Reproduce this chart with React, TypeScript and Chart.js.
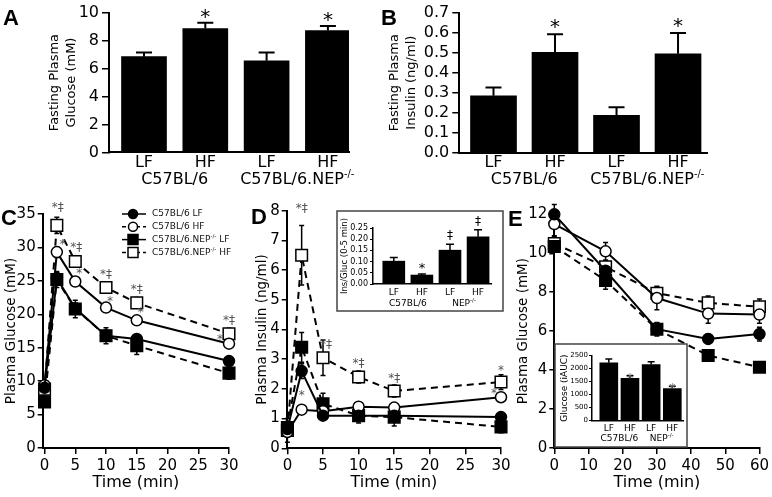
import { useEffect, useRef } from 'react';
import { Chart, registerables } from 'chart.js';

Chart.register(...registerables);

const FIG_W = 772;
const FIG_H = 497;
const SANS = "'DejaVu Sans', Verdana, sans-serif";
const LETTER_FAMILY = "'Liberation Sans', Arial, sans-serif";

// ---------------- data ----------------
const dietLabels = ['LF', 'HF', 'LF', 'HF'];
const strainNames = ['C57BL/6', 'C57BL/6.NEP'];
const insetStrainNames = ['C57BL/6', 'NEP'];
const knockoutMark = '-/-';

// A: fasting plasma glucose (mM)
const fastingGlucose = [6.85, 8.86, 6.55, 8.72];
const fastingGlucoseSem = [0.3, 0.41, 0.6, 0.33];
const fastingGlucoseTicks = [0, 2, 4, 6, 8, 10];

// B: fasting plasma insulin (ng/ml)
const fastingInsulin = [0.284, 0.502, 0.187, 0.494];
const fastingInsulinSem = [0.042, 0.09, 0.04, 0.104];
const fastingInsulinTicks = [0, 0.1, 0.2, 0.3, 0.4, 0.5, 0.6, 0.7];

// C: GTT plasma glucose (mM)
const gttTimes = [0, 2, 5, 10, 15, 30];
const gttTimeTicks = [0, 5, 10, 15, 20, 25, 30];
const gttGlucoseTicks = [0, 5, 10, 15, 20, 25, 30, 35];
const gttGlucoseLF = [9.0, 25.4, 20.9, 16.8, 16.3, 13.0];
const gttGlucoseHF = [9.4, 29.3, 24.9, 21.0, 19.1, 15.6];
const gttGlucoseNepLF = [6.9, 25.2, 20.8, 16.8, 15.3, 11.2];
const gttGlucoseNepHF = [8.8, 33.3, 27.9, 24.0, 21.7, 17.1];
const gttGlucoseLFSem = [0.4, 0.8, 0.7, 0.8, 0.6, 0.5];
const gttGlucoseHFSem = [0.4, 0.8, 0.6, 0.5, 0.5, 0.5];
const gttGlucoseNepLFSem = [0.5, 1.2, 1.3, 1.2, 1.3, 0.9];
const gttGlucoseNepHFSem = [0.5, 1.2, 0.8, 0.8, 0.8, 0.8];

// D: GTT plasma insulin (ng/ml)
const gttInsulinTicks = [0, 1, 2, 3, 4, 5, 6, 7, 8];
const gttInsulinLF = [0.65, 2.6, 1.1, 1.1, 1.1, 1.05];
const gttInsulinHF = [0.55, 1.3, 1.25, 1.4, 1.37, 1.72];
const gttInsulinNepLF = [0.7, 3.4, 1.5, 1.1, 1.05, 0.72];
const gttInsulinNepHF = [0.6, 6.5, 3.05, 2.4, 1.93, 2.23];
const gttInsulinLFSem = [0.1, 0.25, 0.1, 0.12, 0.1, 0.1];
const gttInsulinHFSem = [0.15, 0.1, 0.1, 0.1, 0.1, 0.15];
const gttInsulinNepLFSem = [0.2, 0.5, 0.35, 0.25, 0.3, 0.2];
const gttInsulinNepHFSem = [0.4, 1.0, 0.6, 0.2, 0.2, 0.25];

// D inset: Ins/Gluc (0-5 min)
const insGlucRatio = [0.102, 0.04, 0.151, 0.211];
const insGlucRatioSem = [0.016, 0.005, 0.027, 0.031];
const insGlucTicks = [0, 0.05, 0.1, 0.15, 0.2, 0.25];

// E: ITT plasma glucose (mM)
const ittTimes = [0, 15, 30, 45, 60];
const ittTimeTicks = [0, 10, 20, 30, 40, 50, 60];
const ittGlucoseTicks = [0, 2, 4, 6, 8, 10, 12];
const ittGlucoseLF = [12.0, 9.1, 6.1, 5.6, 5.85];
const ittGlucoseHF = [11.5, 10.1, 7.7, 6.9, 6.85];
const ittGlucoseNepLF = [10.35, 8.6, 6.1, 4.75, 4.15];
const ittGlucoseNepHF = [10.5, 9.3, 7.95, 7.45, 7.25];
const ittGlucoseLFSem = [0.5, 0.3, 0.35, 0.25, 0.35];
const ittGlucoseHFSem = [0.6, 0.45, 0.6, 0.5, 0.45];
const ittGlucoseNepLFSem = [0.3, 0.45, 0.3, 0.3, 0.2];
const ittGlucoseNepHFSem = [0.35, 0.3, 0.3, 0.35, 0.4];

// E inset: glucose iAUC
const glucoseIauc = [2220, 1620, 2150, 1230];
const glucoseIaucSem = [150, 100, 110, 90];
const glucoseIaucTicks = [0, 500, 1000, 1500, 2000, 2500];

// ---------------- helpers ----------------
type Area = { l: number; t: number; r: number; b: number };
type Part = [string, boolean];

const SERIES_LOOK = [
  { shape: 'circle', fill: '#000', dash: [] as number[], r: 5.5 },
  { shape: 'circle', fill: '#fff', dash: [] as number[], r: 5.5 },
  { shape: 'rect', fill: '#000', dash: [7, 5], r: 8.2 },
  { shape: 'rect', fill: '#fff', dash: [7, 5], r: 8.2 },
];

function strainParts(names: string[], k: number): Part[] {
  return k === 0 ? [[names[0], false]] : [[names[1], false], [knockoutMark, true]];
}

function drawRich(ctx: any, parts: Part[], x: number, y: number, size: number, align: string, color: string, weight = '') {
  ctx.save();
  ctx.fillStyle = color;
  ctx.textBaseline = 'middle';
  ctx.textAlign = 'left';
  const mainFont = `${weight} ${size}px ${SANS}`.trim();
  const supFont = `${weight} ${(size * 0.62).toFixed(1)}px ${SANS}`.trim();
  let total = 0;
  for (const [t, sup] of parts) {
    ctx.font = sup ? supFont : mainFont;
    total += ctx.measureText(t).width;
  }
  let cx = align === 'center' ? x - total / 2 : x;
  for (const [t, sup] of parts) {
    ctx.font = sup ? supFont : mainFont;
    ctx.fillText(t, cx, sup ? y - size * 0.36 : y);
    cx += ctx.measureText(t).width;
  }
  ctx.restore();
}

function baseOptions(area: Area, yW: number, xH: number) {
  return {
    responsive: false,
    animation: false,
    devicePixelRatio: 1,
    events: [],
    layout: {
      autoPadding: false,
      padding: { left: area.l - yW, top: area.t, right: FIG_W - area.r, bottom: FIG_H - area.b - xH },
    },
    plugins: { legend: { display: false }, tooltip: { enabled: false }, title: { display: false } },
  };
}

function yAxis(c: any) {
  return {
    type: 'linear',
    position: 'left',
    min: c.min,
    max: c.max,
    afterBuildTicks: (s: any) => { s.ticks = c.ticks.map((v: number) => ({ value: v })); },
    afterFit: (s: any) => { s.width = c.width; },
    ticks: {
      autoSkip: false, color: '#000', padding: c.pad,
      font: { family: SANS, size: c.size },
      callback: (v: any) => c.fmt(Number(v)),
    },
    grid: { display: true, drawOnChartArea: false, drawTicks: true, tickLength: c.tickLen, color: '#000', lineWidth: c.lw ?? 1.5 },
    border: { display: true, color: '#000', width: c.bw ?? 2 },
    title: c.title
      ? { display: true, text: c.title, color: '#000', padding: 0, font: { family: SANS, size: c.titleSize, lineHeight: c.titleLH ?? 1.2 } }
      : { display: false },
  };
}

function xAxisTime(c: any) {
  return {
    type: 'linear',
    position: 'bottom',
    min: c.min,
    max: c.max,
    offset: false,
    afterBuildTicks: (s: any) => { s.ticks = c.ticks.map((v: number) => ({ value: v })); },
    afterFit: (s: any) => { s.height = c.height; },
    ticks: { autoSkip: false, maxRotation: 0, minRotation: 0, color: '#000', padding: c.pad, font: { family: SANS, size: c.size }, callback: (v: any) => String(v) },
    grid: { display: true, drawOnChartArea: false, drawTicks: true, tickLength: 6, color: '#000', lineWidth: 1.5 },
    border: { display: true, color: '#000', width: 2 },
    title: { display: true, text: 'Time (min)', color: '#000', padding: 0, font: { family: SANS, size: c.titleSize } },
  };
}

function xAxisBars(c: any) {
  return {
    type: 'linear',
    position: 'bottom',
    min: c.min,
    max: c.max,
    offset: false,
    afterBuildTicks: (s: any) => { s.ticks = c.labels.map((_: string, i: number) => ({ value: i })); },
    afterFit: (s: any) => { s.height = c.height; },
    ticks: {
      autoSkip: false, maxRotation: 0, minRotation: 0, color: '#000', padding: c.pad,
      font: { family: SANS, size: c.size },
      callback: (_v: any, i: number) => c.labels[i],
    },
    grid: { display: false, drawTicks: false },
    border: { display: true, color: '#000', width: c.bw ?? 2 },
  };
}

function letterPlugin(letter: any) {
  return {
    id: 'panelLetter',
    afterDraw(chart: any) {
      if (!letter) return;
      const ctx = chart.ctx;
      ctx.save();
      ctx.fillStyle = '#000';
      ctx.font = `bold 22px ${LETTER_FAMILY}`;
      ctx.textAlign = 'left';
      ctx.textBaseline = 'alphabetic';
      ctx.fillText(letter.text, letter.x, letter.y);
      ctx.restore();
    },
  };
}

// ---------------- bar panels ----------------
function makeBar(canvas: HTMLCanvasElement, p: any) {
  const plugins: any[] = [
    {
      id: 'insetBox',
      beforeDraw(chart: any) {
        if (!p.box) return;
        const ctx = chart.ctx;
        ctx.save();
        ctx.fillStyle = '#fff';
        ctx.fillRect(p.box.x, p.box.y, p.box.w, p.box.h);
        ctx.strokeStyle = '#444';
        ctx.lineWidth = 1.5;
        ctx.strokeRect(p.box.x, p.box.y, p.box.w, p.box.h);
        ctx.restore();
      },
    },
    {
      id: 'barErrors',
      afterDatasetsDraw(chart: any) {
        const ctx = chart.ctx;
        const xs = chart.scales.x;
        const ys = chart.scales.y;
        ctx.save();
        ctx.strokeStyle = '#000';
        ctx.lineWidth = p.errW;
        p.values.forEach((v: number, i: number) => {
          const x = xs.getPixelForValue(i);
          const yb = ys.getPixelForValue(v);
          const yt = ys.getPixelForValue(v + p.sems[i]);
          ctx.beginPath();
          ctx.moveTo(x, yb);
          ctx.lineTo(x, yt);
          ctx.moveTo(x - p.capW / 2, yt);
          ctx.lineTo(x + p.capW / 2, yt);
          ctx.stroke();
        });
        ctx.restore();
        // significance marks
        p.notes.forEach((n: any) => {
          const x = xs.getPixelForValue(n.i);
          const y = ys.getPixelForValue(p.values[n.i] + p.sems[n.i]) + n.dy;
          ctx.save();
          ctx.fillStyle = n.color;
          ctx.font = `${n.size}px ${SANS}`;
          ctx.textAlign = 'center';
          ctx.textBaseline = 'middle';
          ctx.fillText(n.text, x, y);
          ctx.restore();
        });
      },
    },
    {
      id: 'groupLabels',
      afterDraw(chart: any) {
        const xs = chart.scales.x;
        [0, 1].forEach((g) => {
          const x = (xs.getPixelForValue(2 * g) + xs.getPixelForValue(2 * g + 1)) / 2;
          drawRich(chart.ctx, strainParts(p.groupNames, g), x, p.area.b + p.groupDy, p.groupSize, 'center', '#000');
        });
      },
    },
    letterPlugin(p.letter),
  ];

  return new Chart(canvas, {
    type: 'bar',
    data: {
      datasets: [
        {
          data: p.values.map((v: number, i: number) => ({ x: i, y: v })),
          backgroundColor: '#000',
          borderWidth: 0,
          barThickness: p.barW,
        },
      ],
    },
    options: {
      ...baseOptions(p.area, p.yW, p.xH),
      scales: {
        x: xAxisBars({ min: p.xMin, max: p.xMax, height: p.xH, size: p.xSize, pad: p.xPad, labels: dietLabels, bw: p.axisW }),
        y: yAxis({
          min: p.yMin, max: p.yMax, ticks: p.yTicks, width: p.yW, size: p.tickSize, tickLen: p.yTickLen, pad: p.yTickPad,
          fmt: p.yFmt, title: p.yTitle, titleSize: p.yTitleSize, titleLH: p.yTitleLH, bw: p.axisW, lw: p.tickW,
        }),
      },
    } as any,
    plugins,
  } as any);
}

// ---------------- line panels ----------------
function makeLines(canvas: HTMLCanvasElement, p: any) {
  const plugins: any[] = [
    {
      id: 'lineErrors',
      beforeDatasetsDraw(chart: any) {
        const ctx = chart.ctx;
        const xs = chart.scales.x;
        const ys = chart.scales.y;
        ctx.save();
        ctx.strokeStyle = '#000';
        ctx.lineWidth = 1.5;
        ctx.setLineDash([]);
        p.series.forEach((vals: number[], s: number) => {
          vals.forEach((v: number, i: number) => {
            const e = p.sems[s][i];
            const x = xs.getPixelForValue(p.times[i]);
            const y1 = ys.getPixelForValue(v - e);
            const y2 = ys.getPixelForValue(v + e);
            ctx.beginPath();
            ctx.moveTo(x, y1);
            ctx.lineTo(x, y2);
            ctx.moveTo(x - 2.5, y1);
            ctx.lineTo(x + 2.5, y1);
            ctx.moveTo(x - 2.5, y2);
            ctx.lineTo(x + 2.5, y2);
            ctx.stroke();
          });
        });
        ctx.restore();
      },
      afterDatasetsDraw(chart: any) {
        const ctx = chart.ctx;
        const xs = chart.scales.x;
        const ys = chart.scales.y;
        p.notes.forEach((n: any) => {
          const x = xs.getPixelForValue(p.times[n.i]) + n.dx;
          const y = ys.getPixelForValue(p.series[n.s][n.i]) + n.dy;
          ctx.save();
          ctx.fillStyle = '#555';
          ctx.font = `12px ${SANS}`;
          ctx.textAlign = 'center';
          ctx.textBaseline = 'middle';
          ctx.fillText(n.text, x, y);
          ctx.restore();
        });
      },
    },
    {
      id: 'seriesLegend',
      afterDraw(chart: any) {
        if (!p.legend) return;
        const ctx = chart.ctx;
        const L = p.legend;
        [0, 1, 2, 3].forEach((k) => {
          const y = L.y + k * L.gap;
          const look = SERIES_LOOK[k];
          ctx.save();
          ctx.strokeStyle = '#000';
          ctx.lineWidth = 1.5;
          ctx.setLineDash(k % 2 === 1 ? [4, 3] : []);
          ctx.beginPath();
          ctx.moveTo(L.x1, y);
          ctx.lineTo(L.x2, y);
          ctx.stroke();
          ctx.setLineDash([]);
          ctx.fillStyle = look.fill;
          ctx.beginPath();
          if (look.shape === 'circle') ctx.arc(L.mx, y, 4.5, 0, Math.PI * 2);
          else ctx.rect(L.mx - 5, y - 5, 10, 10);
          ctx.fill();
          ctx.stroke();
          ctx.restore();
          const parts: Part[] = [...strainParts(strainNames, k < 2 ? 0 : 1), [' ' + dietLabels[k], false]];
          drawRich(ctx, parts, L.tx, y, L.size, 'left', '#111');
        });
      },
    },
    letterPlugin(p.letter),
  ];

  const datasets = p.series.map((vals: number[], s: number) => {
    const look = SERIES_LOOK[s];
    return {
      type: 'line',
      data: vals.map((v, i) => ({ x: p.times[i], y: v })),
      borderColor: '#000',
      borderWidth: 2,
      borderDash: look.dash,
      tension: 0,
      fill: false,
      clip: false,
      pointStyle: look.shape,
      pointRadius: look.r,
      pointBackgroundColor: look.fill,
      pointBorderColor: '#000',
      pointBorderWidth: 1.5,
    };
  });

  return new Chart(canvas, {
    type: 'line',
    data: { datasets },
    options: {
      ...baseOptions(p.area, p.yW, p.xH),
      scales: {
        x: xAxisTime({ min: p.xMin, max: p.xMax, ticks: p.xTicks, height: p.xH, size: 15, pad: 3, titleSize: 16 }),
        y: yAxis({
          min: p.yMin, max: p.yMax, ticks: p.yTicks, width: p.yW, size: 15, tickLen: 5, pad: 2,
          fmt: (v: number) => String(v), title: p.yTitle, titleSize: 13.5,
        }),
      },
    } as any,
    plugins,
  } as any);
}

// ---------------- panel specs ----------------
function panelA(c: HTMLCanvasElement) {
  return makeBar(c, {
    area: { l: 109, t: 6.5, r: 349, b: 152.5 }, yW: 62.5, xH: 40,
    xMin: -0.571, xMax: 3.344, barW: 45,
    values: fastingGlucose, sems: fastingGlucoseSem,
    yMin: 0, yMax: 10, yTicks: fastingGlucoseTicks, yFmt: (v: number) => String(v),
    tickSize: 16, yTickLen: 7, yTickPad: 3, tickW: 1.5,
    yTitle: ['Fasting Plasma', 'Glucose (mM)'], yTitleSize: 13, yTitleLH: 1.3,
    xPad: 1, xSize: 16, axisW: 2,
    groupNames: strainNames, groupDy: 27.5, groupSize: 16,
    capW: 16, errW: 2,
    notes: [1, 3].map((i) => ({ i, text: '*', dy: -5, size: 20, color: '#000' })),
    letter: { text: 'A', x: 3, y: 25 },
  });
}

function panelB(c: HTMLCanvasElement) {
  return makeBar(c, {
    area: { l: 459.3, t: 8.3, r: 707, b: 152.7 }, yW: 72.8, xH: 40,
    xMin: -0.556, xMax: 3.471, barW: 46,
    values: fastingInsulin, sems: fastingInsulinSem,
    yMin: 0, yMax: 0.7, yTicks: fastingInsulinTicks, yFmt: (v: number) => v.toFixed(1),
    tickSize: 16, yTickLen: 7, yTickPad: 3, tickW: 1.5,
    yTitle: ['Fasting Plasma', 'Insulin (ng/ml)'], yTitleSize: 13, yTitleLH: 1.3,
    xPad: 1, xSize: 16, axisW: 2,
    groupNames: strainNames, groupDy: 27.5, groupSize: 16,
    capW: 16, errW: 2,
    notes: [1, 3].map((i) => ({ i, text: '*', dy: -6, size: 20, color: '#000' })),
    letter: { text: 'B', x: 381, y: 25 },
  });
}

function panelDInset(c: HTMLCanvasElement) {
  return makeBar(c, {
    box: { x: 337, y: 211, w: 166, h: 100 },
    area: { l: 373, t: 228, r: 491, b: 284 }, yW: 33, xH: 25,
    xMin: -0.74, xMax: 3.46, barW: 22,
    values: insGlucRatio, sems: insGlucRatioSem,
    yMin: 0, yMax: 0.25, yTicks: insGlucTicks, yFmt: (v: number) => v.toFixed(2),
    tickSize: 8, yTickLen: 3, yTickPad: 2, tickW: 1,
    yTitle: 'Ins/Gluc (0-5 min)', yTitleSize: 8.5, yTitleLH: 1.2,
    xPad: 3, xSize: 9, axisW: 1.5,
    groupNames: insetStrainNames, groupDy: 19.5, groupSize: 9,
    capW: 8, errW: 1.5,
    notes: [
      { i: 1, text: '*', dy: -5, size: 13, color: '#000' },
      { i: 2, text: '‡', dy: -8, size: 12, color: '#000' },
      { i: 3, text: '‡', dy: -8, size: 12, color: '#000' },
    ],
    letter: null,
  });
}

function panelEInset(c: HTMLCanvasElement) {
  return makeBar(c, {
    box: { x: 555, y: 344, w: 132, h: 103 },
    area: { l: 592, t: 355.5, r: 683, b: 420.5 }, yW: 32.4, xH: 25,
    xMin: -0.794, xMax: 3.505, barW: 18,
    values: glucoseIauc, sems: glucoseIaucSem,
    yMin: 0, yMax: 2500, yTicks: glucoseIaucTicks, yFmt: (v: number) => String(v),
    tickSize: 7, yTickLen: 3, yTickPad: 1, tickW: 1,
    yTitle: 'Glucose (iAUC)', yTitleSize: 9, yTitleLH: 1.2,
    xPad: 3, xSize: 9, axisW: 1.5,
    groupNames: insetStrainNames, groupDy: 18.5, groupSize: 9,
    capW: 7, errW: 1.5,
    notes: [1, 3].map((i) => ({ i, text: '*', dy: 3, size: 12, color: '#666' })),
    letter: null,
  });
}

function panelC(c: HTMLCanvasElement) {
  return makeLines(c, {
    area: { l: 42.7, t: 214, r: 229, b: 448 }, yW: 39.8, xH: 44.6,
    xMin: -0.3, xMax: 30, xTicks: gttTimeTicks, yMin: 0, yMax: 35, yTicks: gttGlucoseTicks,
    yTitle: 'Plasma Glucose (mM)',
    times: gttTimes,
    series: [gttGlucoseLF, gttGlucoseHF, gttGlucoseNepLF, gttGlucoseNepHF],
    sems: [gttGlucoseLFSem, gttGlucoseHFSem, gttGlucoseNepLFSem, gttGlucoseNepHFSem],
    notes: [
      { s: 3, i: 1, text: '*‡', dx: 1, dy: -17 },
      { s: 3, i: 2, text: '*‡', dx: 1, dy: -14 },
      { s: 3, i: 3, text: '*‡', dx: 0, dy: -13 },
      { s: 3, i: 4, text: '*‡', dx: 0, dy: -13 },
      { s: 3, i: 5, text: '*‡', dx: 0, dy: -13 },
      { s: 1, i: 1, text: '*', dx: 6, dy: -7 },
      { s: 1, i: 2, text: '*', dx: 4, dy: -8 },
      { s: 1, i: 3, text: '*', dx: 4, dy: -6 },
      { s: 1, i: 4, text: '*', dx: 4, dy: -7 },
      { s: 1, i: 5, text: '*', dx: -9, dy: -4 },
    ],
    legend: { x1: 122, x2: 146, mx: 133, tx: 152, y: 214, gap: 12.8, size: 9 },
    letter: { text: 'C', x: 1, y: 225 },
  });
}

function panelD(c: HTMLCanvasElement) {
  return makeLines(c, {
    area: { l: 286.7, t: 210.7, r: 501, b: 448.3 }, yW: 32.8, xH: 44.3,
    xMin: -0.1, xMax: 30, xTicks: gttTimeTicks, yMin: 0, yMax: 8, yTicks: gttInsulinTicks,
    yTitle: 'Plasma Insulin (ng/ml)',
    times: gttTimes,
    series: [gttInsulinLF, gttInsulinHF, gttInsulinNepLF, gttInsulinNepHF],
    sems: [gttInsulinLFSem, gttInsulinHFSem, gttInsulinNepLFSem, gttInsulinNepHFSem],
    notes: [
      { s: 3, i: 1, text: '*‡', dx: 0, dy: -46 },
      { s: 3, i: 2, text: '*‡', dx: 3, dy: -13 },
      { s: 3, i: 3, text: '*‡', dx: 0, dy: -13 },
      { s: 3, i: 4, text: '*‡', dx: 0, dy: -12 },
      { s: 3, i: 5, text: '*', dx: 0, dy: -11 },
      { s: 1, i: 1, text: '*', dx: 0, dy: -14 },
      { s: 1, i: 5, text: '*', dx: -7, dy: -3 },
    ],
    legend: null,
    letter: { text: 'D', x: 251, y: 224 },
  });
}

function panelE(c: HTMLCanvasElement) {
  return makeLines(c, {
    area: { l: 554.3, t: 214.3, r: 763.3, b: 448 }, yW: 39.4, xH: 44.6,
    xMin: 0, xMax: 60, xTicks: ittTimeTicks, yMin: 0, yMax: 12, yTicks: ittGlucoseTicks,
    yTitle: 'Plasma Glucose (mM)',
    times: ittTimes,
    series: [ittGlucoseLF, ittGlucoseHF, ittGlucoseNepLF, ittGlucoseNepHF],
    sems: [ittGlucoseLFSem, ittGlucoseHFSem, ittGlucoseNepLFSem, ittGlucoseNepHFSem],
    notes: [],
    legend: null,
    letter: { text: 'E', x: 508, y: 226 },
  });
}

const PANEL_MAKERS = [panelA, panelB, panelC, panelD, panelDInset, panelE, panelEInset];

export default function App() {
  const refs = useRef<(HTMLCanvasElement | null)[]>([]);

  useEffect(() => {
    const charts = PANEL_MAKERS.map((mk, i) => mk(refs.current[i] as HTMLCanvasElement));
    return () => charts.forEach((ch) => ch.destroy());
  }, []);

  return (
    <div style={{ position: 'fixed', left: 0, top: 0, width: FIG_W, height: FIG_H, background: '#fff', overflow: 'hidden' }}>
      {PANEL_MAKERS.map((_, i) => (
        <canvas
          key={i}
          ref={(el) => { refs.current[i] = el; }}
          width={FIG_W}
          height={FIG_H}
          style={{ position: 'absolute', left: 0, top: 0, width: FIG_W, height: FIG_H }}
        />
      ))}
    </div>
  );
}
